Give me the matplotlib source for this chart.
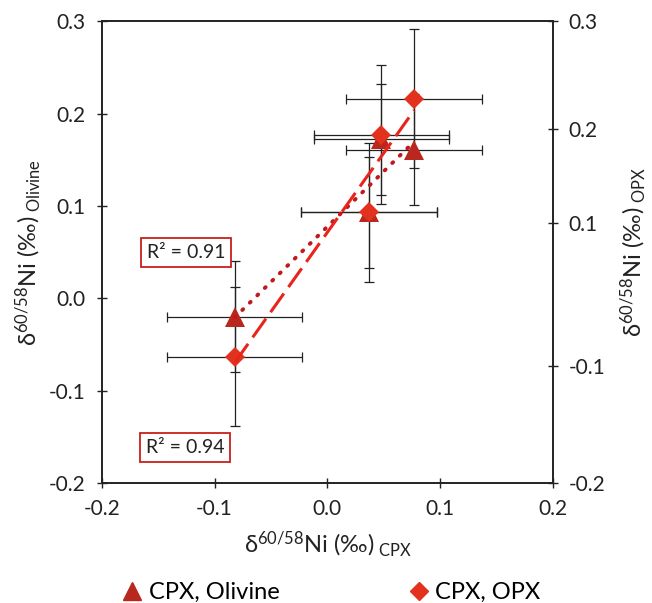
import numpy as np
import matplotlib
matplotlib.use('Agg')
import matplotlib.pyplot as plt
from matplotlib.lines import Line2D

plt.rcParams['font.family'] = ['Lato', 'DejaVu Sans']
plt.rcParams['mathtext.fontset'] = 'custom'
plt.rcParams['mathtext.rm'] = 'Lato'
plt.rcParams['mathtext.it'] = 'Lato:italic'
plt.rcParams['mathtext.bf'] = 'Lato:bold'

# data (per mil)
cpx = [-0.082, 0.048, 0.037, 0.077]
olivine = [-0.020, 0.172, 0.093, 0.161]
opx = [-0.063, 0.177, 0.093, 0.216]
cpx_err = 0.06
olivine_err = 0.06
opx_err = 0.075

r2_labels = ['R² = 0.91', 'R² = 0.94']

left_ticks = [-0.2, -0.1, 0.0, 0.1, 0.2, 0.3]
# right axis labels sit where the original figure put them
right_tick_pos = [0.3, 0.183, 0.082, -0.073, -0.2]
right_tick_lab = ['0.3', '0.2', '0.1', '-0.1', '-0.2']

c_tri = '#B8281E'
c_dia = '#E2321E'
c_box = '#C8201E'
c_txt = '#222222'

fig = plt.figure(figsize=(6.52, 6.03), dpi=100)
ax = fig.add_axes([0.156, 0.1985, 0.692, 0.7665])

ax.errorbar(cpx, olivine, xerr=cpx_err, yerr=olivine_err, fmt='none',
            ecolor=c_txt, elinewidth=0.9, capsize=3.6, capthick=0.9, zorder=2)
ax.errorbar(cpx, opx, xerr=cpx_err, yerr=opx_err, fmt='none',
            ecolor=c_txt, elinewidth=0.9, capsize=3.6, capthick=0.9, zorder=2)

ax.plot(cpx, olivine, '^', color=c_tri, markersize=14, markeredgewidth=0, zorder=3)
ax.plot(cpx, opx, 'D', color=c_dia, markersize=10, markeredgewidth=0, zorder=3)

# linear trend lines
xs = np.array([min(cpx), max(cpx)])
k1, b1 = np.polyfit(cpx, olivine, 1)
k2, b2 = np.polyfit(cpx, opx, 1)
ax.plot(xs, k1 * xs + b1, color='#C0181C', lw=2.8, linestyle=(0, (0.3, 2.4)),
        dash_capstyle='round', zorder=4)
ax.plot(xs, k2 * xs + b2, color='#E8241C', lw=2.2, linestyle=(0, (7.5, 2.6)),
        zorder=4)

ax.set_xlim(-0.2, 0.2)
ax.set_ylim(-0.2, 0.3)
ax.set_xticks([-0.2, -0.1, 0.0, 0.1, 0.2])
ax.set_xticklabels(['%.1f' % v for v in [-0.2, -0.1, 0.0, 0.1, 0.2]])
ax.set_yticks(left_ticks)
ax.set_yticklabels(['%.1f' % v for v in left_ticks])
ax.tick_params(direction='inout', length=7, width=1.0, labelsize=15, pad=8,
               colors=c_txt)
for s in ax.spines.values():
    s.set_linewidth(1.2)
    s.set_color(c_txt)

ax2 = ax.twinx()
ax2.set_ylim(-0.2, 0.3)
ax2.set_yticks(right_tick_pos)
ax2.set_yticklabels(right_tick_lab)
ax2.tick_params(direction='inout', length=7, width=1.0, labelsize=15, pad=8,
                colors=c_txt)
for s in ax2.spines.values():
    s.set_linewidth(1.2)
    s.set_color(c_txt)

lab = 'δ$^{\\mathregular{60/58}}$Ni (‰)$_{\\mathregular{\\ %s}}$'
ax.set_xlabel(lab % 'CPX', fontsize=17, color=c_txt, labelpad=7)
ax.set_ylabel(lab % 'Olivine', fontsize=17, color=c_txt, labelpad=4)
ax2.set_ylabel(lab % 'OPX', fontsize=17, color=c_txt, labelpad=9,
               rotation=90)

box = dict(boxstyle='square,pad=0.3', facecolor='white', edgecolor=c_box, lw=1.3)
ax.text(0.187, 0.500, r2_labels[0], transform=ax.transAxes, fontsize=14,
        ha='center', va='center', bbox=box, color=c_txt, zorder=5)
ax.text(0.185, 0.077, r2_labels[1], transform=ax.transAxes, fontsize=14,
        ha='center', va='center', bbox=box, color=c_txt, zorder=5)

handles = [Line2D([], [], marker='^', color=c_tri, linestyle='none', markersize=13),
           Line2D([], [], marker='D', color=c_dia, linestyle='none', markersize=9)]
fig.legend(handles, ['CPX, Olivine', 'CPX, OPX'], loc='lower center',
           bbox_to_anchor=(0.505, -0.035), ncol=2, frameon=False, fontsize=17,
           columnspacing=5.3, handletextpad=0.1, handlelength=1.2)

fig.savefig('out.png', dpi=100, facecolor='white')
